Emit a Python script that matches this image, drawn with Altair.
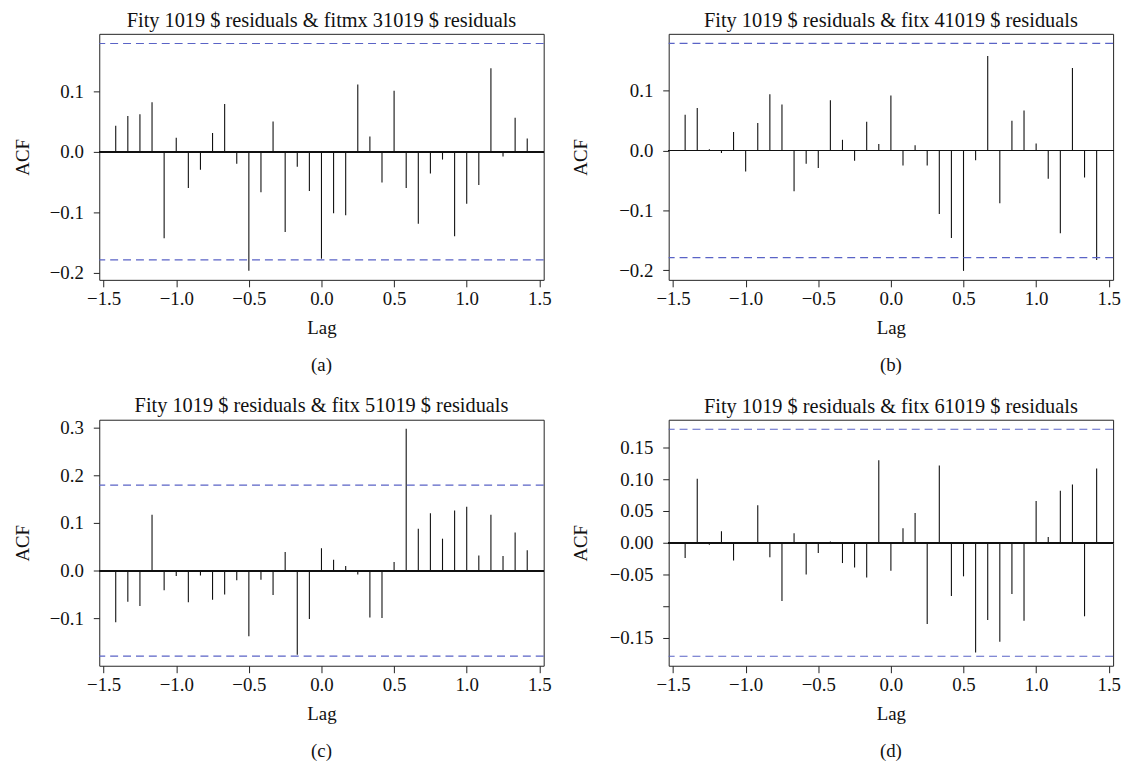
import altair as alt
import pandas as pd

# ---- data ----
LAG_MONTHS = [-17, -16, -15, -14, -13, -12, -11, -10, -9, -8, -7, -6, -5, -4, -3, -2, -1,
              0, 1, 2, 3, 4, 5, 6, 7, 8, 9, 10, 11, 12, 13, 14, 15, 16, 17]
FREQ = 12

ACF_A = [0.043, 0.059, 0.062, 0.082, -0.143, 0.023, -0.060, -0.030, 0.031, 0.079, -0.020, -0.197,
         -0.067, 0.050, -0.133, -0.025, -0.065, -0.177, -0.102, -0.105, 0.111, 0.025, -0.051, 0.101,
         -0.060, -0.119, -0.036, -0.013, -0.140, -0.086, -0.055, 0.138, -0.008, 0.056, 0.022]
ACF_B = [0.060, 0.071, 0.002, -0.004, 0.031, -0.035, 0.046, 0.094, 0.077, -0.068, -0.022, -0.029,
         0.084, 0.018, -0.017, 0.048, 0.011, 0.092, -0.025, 0.009, -0.025, -0.106, -0.146, -0.201,
         -0.016, 0.158, -0.088, 0.050, 0.067, 0.012, -0.047, -0.138, 0.138, -0.045, -0.183]
ACF_C = [-0.108, -0.065, -0.074, 0.117, -0.041, -0.011, -0.066, -0.010, -0.061, -0.050, -0.020, -0.137,
         -0.019, -0.051, 0.039, -0.176, -0.101, 0.047, 0.023, 0.010, -0.008, -0.098, -0.099, 0.018,
         0.297, 0.088, 0.120, 0.067, 0.126, 0.134, 0.032, 0.117, 0.031, 0.080, 0.043]
ACF_D = [-0.024, 0.101, -0.003, 0.018, -0.028, 0.001, 0.059, -0.023, -0.092, 0.015, -0.050, -0.016,
         0.002, -0.032, -0.039, -0.055, 0.130, -0.044, 0.023, 0.047, -0.128, 0.122, -0.084, -0.053,
         -0.173, -0.122, -0.156, -0.081, -0.123, 0.066, 0.009, 0.082, 0.092, -0.116, 0.117]

CI = 0.179
TITLES = ["Fity 1019 $ residuals & fitmx 31019 $ residuals",
          "Fity 1019 $ residuals & fitx 41019 $ residuals",
          "Fity 1019 $ residuals & fitx 51019 $ residuals",
          "Fity 1019 $ residuals & fitx 61019 $ residuals"]
CAPTIONS = ["(a)", "(b)", "(c)", "(d)"]
Y_DOMAINS = [[-0.212, 0.195], [-0.216, 0.195], [-0.199, 0.316], [-0.194, 0.194]]
Y_TICKS = [[-0.2, -0.1, 0.0, 0.1],
           [-0.2, -0.1, 0.0, 0.1],
           [-0.1, 0.0, 0.1, 0.2, 0.3],
           [-0.15, -0.10, -0.05, 0.0, 0.05, 0.10, 0.15]]
Y_FORMATS = [".1f", ".1f", ".1f", ".2f"]
X_TICKS = [-1.5, -1.0, -0.5, 0.0, 0.5, 1.0, 1.5]
X_DOMAIN = [-1.53, 1.53]

FONT = "Liberation Serif"
W, H = 448, 248
CI_COLOR = "#5a63c6"


def panel(vals, title, caption, ydom, yticks, yfmt, title_x, hide_minus_010=False):
    df = pd.DataFrame({"lag": [k / FREQ for k in LAG_MONTHS], "acf": vals})
    ci_df = pd.DataFrame({"ci": [CI, -CI]})
    cap_df = pd.DataFrame({"t": [caption]})

    label_expr = "datum.label"
    if hide_minus_010:
        label_expr = "abs(datum.value + 0.1) < 1e-9 ? '' : datum.label"

    x_enc = alt.X(
        "lag:Q",
        scale=alt.Scale(domain=X_DOMAIN, nice=False, zero=False),
        axis=alt.Axis(values=X_TICKS, format=".1f", title="Lag", labelFlush=False,
                      titleY=48, titleBaseline="middle", titleX=W / 2,
                      tickSize=7, labelPadding=3, grid=False, domain=False),
    )
    y_enc = alt.Y(
        "acf:Q",
        scale=alt.Scale(domain=ydom, nice=False, zero=False),
        axis=alt.Axis(values=yticks, format=yfmt, title="ACF", labelExpr=label_expr,
                      titleX=title_x, titleY=H / 2, titleAngle=270, titleBaseline="middle",
                      tickSize=6, labelPadding=10, grid=False, domain=False),
    )

    bars = alt.Chart(df).mark_rule(color="#111", strokeWidth=1.1).encode(
        x=x_enc, y=y_enc, y2=alt.Y2(datum=0)
    )
    zero = alt.Chart(df).mark_rule(color="#111", strokeWidth=1.1).encode(
        y=alt.Y(datum=0)
    )
    ci = alt.Chart(ci_df).mark_rule(color=CI_COLOR, strokeWidth=1.2, strokeDash=[8, 5]).encode(
        y=alt.Y("ci:Q")
    )
    cap = alt.Chart(cap_df).mark_text(font=FONT, fontSize=19, color="#111", baseline="middle").encode(
        text="t:N", x=alt.value(W / 2), y=alt.value(H + 86)
    )
    return alt.layer(bars, zero, ci, cap).properties(
        width=W, height=H,
        title=alt.TitleParams(title, font=FONT, fontSize=20.5, fontWeight="normal",
                              color="#111", anchor="middle", offset=2),
    )


pa = panel(ACF_A, TITLES[0], CAPTIONS[0], Y_DOMAINS[0], Y_TICKS[0], Y_FORMATS[0], -77)
pb = panel(ACF_B, TITLES[1], CAPTIONS[1], Y_DOMAINS[1], Y_TICKS[1], Y_FORMATS[1], -89)
pc = panel(ACF_C, TITLES[2], CAPTIONS[2], Y_DOMAINS[2], Y_TICKS[2], Y_FORMATS[2], -77)
pd_ = panel(ACF_D, TITLES[3], CAPTIONS[3], Y_DOMAINS[3], Y_TICKS[3], Y_FORMATS[3], -89,
            hide_minus_010=True)

row1 = alt.hconcat(pa, pb, spacing=19)
row2 = alt.hconcat(pc, pd_, spacing=19)

chart = alt.vconcat(row1, row2, spacing=19).properties(
    padding={"left": 5, "top": 0, "right": 5, "bottom": 0},
    background="white",
).configure_view(
    stroke="#222", strokeWidth=1
).configure_axis(
    domain=False, grid=False, ticks=True, tickColor="#222", tickWidth=1,
    labelFont=FONT, labelFontSize=19, labelColor="#111",
    titleFont=FONT, titleFontSize=19, titleFontWeight="normal", titleColor="#111",
)

chart.save("out.html", embed_options={"renderer": "svg", "actions": False})
